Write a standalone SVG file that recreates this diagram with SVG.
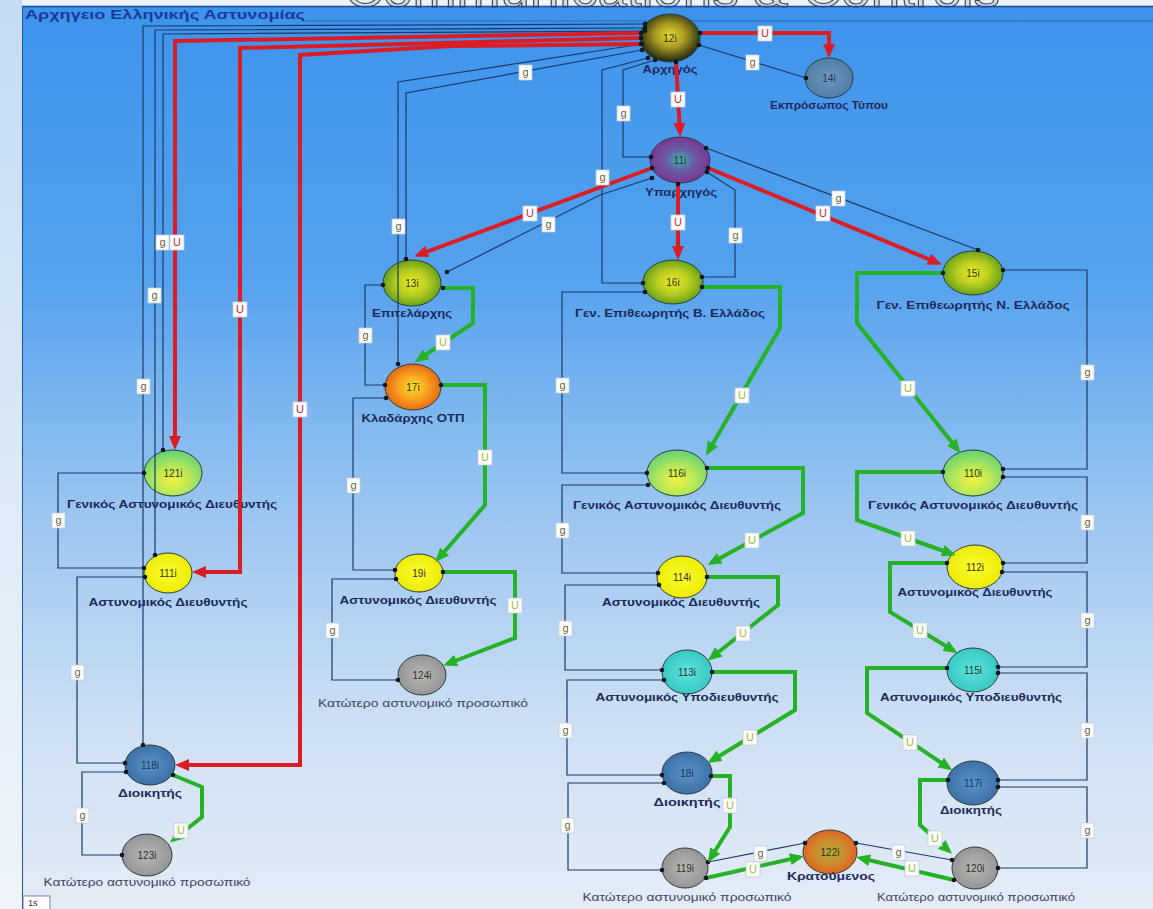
<svg xmlns="http://www.w3.org/2000/svg" width="1153" height="909" viewBox="0 0 1153 909">
  <defs>
    <linearGradient id="bgPanel" x1="0" y1="0" x2="0" y2="1">
      <stop offset="0" stop-color="#3d93ec"/>
      <stop offset="0.3" stop-color="#55a2ee"/>
      <stop offset="0.55" stop-color="#98c4f0"/>
      <stop offset="0.8" stop-color="#cfe0f4"/>
      <stop offset="1" stop-color="#e4ecf6"/>
    </linearGradient>
    <linearGradient id="bgSide" x1="0" y1="0" x2="0" y2="1">
      <stop offset="0" stop-color="#c4dcf2"/>
      <stop offset="0.5" stop-color="#dce9f6"/>
      <stop offset="1" stop-color="#eef4fa"/>
    </linearGradient>
    <radialGradient id="fDark" cx="50%" cy="45%" r="55%">
      <stop offset="0" stop-color="#e4dc30"/>
      <stop offset="0.45" stop-color="#a89a22"/>
      <stop offset="1" stop-color="#1c2412"/>
    </radialGradient>
    <radialGradient id="fPurple" cx="50%" cy="50%" r="55%">
      <stop offset="0" stop-color="#3cb4b0"/>
      <stop offset="0.45" stop-color="#6a5aa4"/>
      <stop offset="1" stop-color="#7c2e92"/>
    </radialGradient>
    <radialGradient id="fGreen" cx="50%" cy="50%" r="55%">
      <stop offset="0" stop-color="#ecec22"/>
      <stop offset="0.5" stop-color="#b6cc20"/>
      <stop offset="1" stop-color="#5a9a18"/>
    </radialGradient>
    <radialGradient id="fOrange" cx="50%" cy="50%" r="55%">
      <stop offset="0" stop-color="#f8e022"/>
      <stop offset="0.5" stop-color="#f8a020"/>
      <stop offset="1" stop-color="#e26010"/>
    </radialGradient>
    <radialGradient id="fLight" cx="50%" cy="65%" r="60%">
      <stop offset="0" stop-color="#f2f23e"/>
      <stop offset="0.5" stop-color="#b8e858"/>
      <stop offset="1" stop-color="#6cd474"/>
    </radialGradient>
    <radialGradient id="fYellow" cx="50%" cy="50%" r="55%">
      <stop offset="0" stop-color="#fcfc30"/>
      <stop offset="1" stop-color="#ecea00"/>
    </radialGradient>
    <radialGradient id="fCyan" cx="50%" cy="50%" r="55%">
      <stop offset="0" stop-color="#5ce6de"/>
      <stop offset="1" stop-color="#34c6c2"/>
    </radialGradient>
    <radialGradient id="fBlue" cx="50%" cy="50%" r="55%">
      <stop offset="0" stop-color="#5a92c8"/>
      <stop offset="1" stop-color="#3a6ea6"/>
    </radialGradient>
    <radialGradient id="fSteel" cx="50%" cy="50%" r="55%">
      <stop offset="0" stop-color="#6c96bc"/>
      <stop offset="1" stop-color="#4c7ca4"/>
    </radialGradient>
    <radialGradient id="fGrey" cx="50%" cy="50%" r="55%">
      <stop offset="0" stop-color="#b8b8b8"/>
      <stop offset="1" stop-color="#929292"/>
    </radialGradient>
    <radialGradient id="fRust" cx="50%" cy="50%" r="55%">
      <stop offset="0" stop-color="#b4a838"/>
      <stop offset="0.55" stop-color="#cc8a2c"/>
      <stop offset="1" stop-color="#e85a20"/>
    </radialGradient>

    <marker id="arR" markerWidth="14" markerHeight="12" refX="10" refY="6" orient="auto" markerUnits="userSpaceOnUse">
      <path d="M0,0 L14,6 L0,12 z" fill="#dc1c24"/>
    </marker>
    <marker id="arG" markerWidth="14" markerHeight="12" refX="10" refY="6" orient="auto" markerUnits="userSpaceOnUse">
      <path d="M0,0 L14,6 L0,12 z" fill="#26b226"/>
    </marker>
    <marker id="dot" markerWidth="6" markerHeight="6" refX="3" refY="3" markerUnits="userSpaceOnUse">
      <circle cx="3" cy="3" r="2.3" fill="#0e1620"/>
    </marker>
  </defs>

  <style>
    .node ellipse { stroke: #2c3c3c; stroke-width: 1; }
    .num { font-family: "Liberation Sans", Arial, sans-serif; font-size: 10px; fill: #30301a; text-anchor: middle; }
    .numb { fill: #1c3454; }
    .lbl { font-family: "Liberation Sans", Arial, sans-serif; font-size: 11px; font-weight: bold; fill: #1c2a5a; text-anchor: middle; }
    .lbl2 { font-family: "Liberation Sans", Arial, sans-serif; font-size: 11px; fill: #3a4662; text-anchor: middle; }
    .r { fill: none; stroke: #dc1c24; stroke-width: 4; marker-start: url(#dot); marker-end: url(#arR); }
    .gr { fill: none; stroke: #26b226; stroke-width: 4; marker-start: url(#dot); marker-end: url(#arG); }
    .d { fill: none; stroke: #1c3a68; stroke-width: 1.2; marker-start: url(#dot); marker-end: url(#dot); }
    .tag rect { fill: #ffffff; stroke: #c4ccd6; stroke-width: 0.8; }
    .tag text { font-family: "Liberation Sans", Arial, sans-serif; font-size: 11px; text-anchor: middle; }
    .tg text { fill: #6a6040; }
    .tr text { fill: #e0202a; }
    .tgr text { fill: #9cc030; }
  </style>

  <!-- backdrop -->
  <rect x="0" y="0" width="1153" height="909" fill="#eef3f8"/>
  <rect x="0" y="0" width="22" height="909" fill="url(#bgSide)"/>
  <rect x="22" y="6" width="1131" height="903" fill="url(#bgPanel)"/>
  <text x="345" y="7" font-family="Liberation Sans, Arial, sans-serif" font-size="46" fill="#d4dce4" stroke="#3c4650" stroke-width="1" textLength="655" lengthAdjust="spacingAndGlyphs">Communications &amp; Controls</text>
  <line x1="22" y1="6.5" x2="1153" y2="6.5" stroke="#1848a0" stroke-width="1.5"/>
  <line x1="22.5" y1="6" x2="22.5" y2="909" stroke="#2050a0" stroke-width="1"/>
  <line x1="305" y1="21" x2="1153" y2="21" stroke="#2858a8" stroke-width="0.8"/>
  <text x="25" y="19" font-family="Liberation Sans, Arial, sans-serif" font-size="13" font-weight="bold" fill="#1a3a9a" textLength="280" lengthAdjust="spacingAndGlyphs">Αρχηγειο Ελληνικής Αστυνομίας</text>
  <g id="pageTab">
    <rect x="23" y="896" width="27" height="14" fill="#ffffff" stroke="#5a6a80" stroke-width="0.8"/>
    <text x="28" y="906" font-family="Liberation Sans, Arial, sans-serif" font-size="9" fill="#2a3a50">1s</text>
  </g>

  <!-- nodes -->
  <g id="n12i" class="node">
    <ellipse cx="670" cy="38" rx="30" ry="24" fill="url(#fDark)"/>
    <text class="num" x="670" y="42">12i</text>
    <text class="lbl" x="670" y="73" textLength="55" lengthAdjust="spacingAndGlyphs">Αρχηγός</text>
  </g>
  <g id="n14i" class="node">
    <ellipse cx="829" cy="78" rx="24" ry="20" fill="url(#fSteel)"/>
    <text class="num numb" x="829" y="82">14i</text>
    <text class="lbl" x="829" y="109" textLength="118" lengthAdjust="spacingAndGlyphs">Εκπρόσωπος Τύπου</text>
  </g>
  <g id="n11i" class="node">
    <ellipse cx="680" cy="160" rx="30" ry="23" fill="url(#fPurple)"/>
    <text class="num" x="680" y="164" fill="#1e5a5a">11i</text>
    <text class="lbl" x="681" y="196" textLength="72" lengthAdjust="spacingAndGlyphs">Υπαρχηγός</text>
  </g>
  <g id="n13i" class="node">
    <ellipse cx="412" cy="283" rx="29" ry="23" fill="url(#fGreen)"/>
    <text class="num" x="412" y="287">13i</text>
    <text class="lbl" x="412" y="317" textLength="80" lengthAdjust="spacingAndGlyphs">Επιτελάρχης</text>
  </g>
  <g id="n17i" class="node">
    <ellipse cx="413" cy="387" rx="28" ry="23" fill="url(#fOrange)"/>
    <text class="num" x="413" y="391">17i</text>
    <text class="lbl" x="413" y="422" textLength="103" lengthAdjust="spacingAndGlyphs">Κλαδάρχης ΟΤΠ</text>
  </g>
  <g id="n16i" class="node">
    <ellipse cx="673" cy="282" rx="30" ry="22" fill="url(#fGreen)"/>
    <text class="num" x="673" y="286">16i</text>
    <text class="lbl" x="670" y="317" textLength="190" lengthAdjust="spacingAndGlyphs">Γεν. Επιθεωρητής Β. Ελλάδος</text>
  </g>
  <g id="n15i" class="node">
    <ellipse cx="973" cy="273" rx="30" ry="22" fill="url(#fGreen)"/>
    <text class="num" x="973" y="277">15i</text>
    <text class="lbl" x="973" y="309" textLength="193" lengthAdjust="spacingAndGlyphs">Γεν. Επιθεωρητής Ν. Ελλάδος</text>
  </g>
  <g id="n121i" class="node">
    <ellipse cx="173" cy="473" rx="29" ry="23" fill="url(#fLight)"/>
    <text class="num" x="173" y="477">121i</text>
    <text class="lbl" x="172" y="508" textLength="210" lengthAdjust="spacingAndGlyphs">Γενικός Αστυνομικός Διευθυντής</text>
  </g>
  <g id="n111i" class="node">
    <ellipse cx="168" cy="573" rx="24" ry="20" fill="url(#fYellow)"/>
    <text class="num" x="168" y="577">111i</text>
    <text class="lbl" x="168" y="606" textLength="159" lengthAdjust="spacingAndGlyphs">Αστυνομικός Διευθυντής</text>
  </g>
  <g id="n118i" class="node">
    <ellipse cx="150" cy="765" rx="25" ry="20" fill="url(#fBlue)"/>
    <text class="num numb" x="150" y="769">118i</text>
    <text class="lbl" x="150" y="797" textLength="64" lengthAdjust="spacingAndGlyphs">Διοικητής</text>
  </g>
  <g id="n123i" class="node">
    <ellipse cx="147" cy="855" rx="25" ry="21" fill="url(#fGrey)"/>
    <text class="num" x="147" y="859" fill="#505050">123i</text>
    <text class="lbl2" x="147" y="886" textLength="207" lengthAdjust="spacingAndGlyphs">Κατώτερο αστυνομικό προσωπικό</text>
  </g>
  <g id="n19i" class="node">
    <ellipse cx="419" cy="573" rx="24" ry="19" fill="url(#fYellow)"/>
    <text class="num" x="419" y="577">19i</text>
    <text class="lbl" x="418" y="604" textLength="157" lengthAdjust="spacingAndGlyphs">Αστυνομικός Διευθυντής</text>
  </g>
  <g id="n124i" class="node">
    <ellipse cx="422" cy="675" rx="24" ry="20" fill="url(#fGrey)"/>
    <text class="num" x="422" y="679" fill="#505050">124i</text>
    <text class="lbl2" x="423" y="707" textLength="210" lengthAdjust="spacingAndGlyphs">Κατώτερο αστυνομικό προσωπικό</text>
  </g>
  <g id="n116i" class="node">
    <ellipse cx="677" cy="473" rx="30" ry="23" fill="url(#fLight)"/>
    <text class="num" x="677" y="477">116i</text>
    <text class="lbl" x="677" y="509" textLength="208" lengthAdjust="spacingAndGlyphs">Γενικός Αστυνομικός Διευθυντής</text>
  </g>
  <g id="n114i" class="node">
    <ellipse cx="682" cy="577" rx="25" ry="21" fill="url(#fYellow)"/>
    <text class="num" x="682" y="581">114i</text>
    <text class="lbl" x="681" y="606" textLength="158" lengthAdjust="spacingAndGlyphs">Αστυνομικός Διευθυντής</text>
  </g>
  <g id="n113i" class="node">
    <ellipse cx="687" cy="672" rx="25" ry="22" fill="url(#fCyan)"/>
    <text class="num" x="687" y="676">113i</text>
    <text class="lbl" x="687" y="701" textLength="183" lengthAdjust="spacingAndGlyphs">Αστυνομικός Υποδιευθυντής</text>
  </g>
  <g id="n18i" class="node">
    <ellipse cx="687" cy="773" rx="25" ry="21" fill="url(#fBlue)"/>
    <text class="num numb" x="687" y="777">18i</text>
    <text class="lbl" x="687" y="806" textLength="67" lengthAdjust="spacingAndGlyphs">Διοικητής</text>
  </g>
  <g id="n119i" class="node">
    <ellipse cx="685" cy="868" rx="23" ry="20" fill="url(#fGrey)"/>
    <text class="num" x="685" y="872" fill="#505050">119i</text>
    <text class="lbl2" x="687" y="901" textLength="209" lengthAdjust="spacingAndGlyphs">Κατώτερο αστυνομικό προσωπικό</text>
  </g>
  <g id="n122i" class="node">
    <ellipse cx="830" cy="852" rx="27" ry="22" fill="url(#fRust)"/>
    <text class="num" x="830" y="856">122i</text>
    <text class="lbl" x="831" y="880" textLength="88" lengthAdjust="spacingAndGlyphs">Κρατούμενος</text>
  </g>
  <g id="n110i" class="node">
    <ellipse cx="973" cy="473" rx="30" ry="23" fill="url(#fLight)"/>
    <text class="num" x="973" y="477">110i</text>
    <text class="lbl" x="973" y="509" textLength="210" lengthAdjust="spacingAndGlyphs">Γενικός Αστυνομικός Διευθυντής</text>
  </g>
  <g id="n112i" class="node">
    <ellipse cx="975" cy="567" rx="28" ry="22" fill="url(#fYellow)"/>
    <text class="num" x="975" y="571">112i</text>
    <text class="lbl" x="975" y="596" textLength="155" lengthAdjust="spacingAndGlyphs">Αστυνομικός Διευθυντής</text>
  </g>
  <g id="n115i" class="node">
    <ellipse cx="973" cy="670" rx="26" ry="22" fill="url(#fCyan)"/>
    <text class="num" x="973" y="674">115i</text>
    <text class="lbl" x="971" y="701" textLength="182" lengthAdjust="spacingAndGlyphs">Αστυνομικός Υποδιευθυντής</text>
  </g>
  <g id="n117i" class="node">
    <ellipse cx="973" cy="783" rx="26" ry="22" fill="url(#fBlue)"/>
    <text class="num numb" x="973" y="787">117i</text>
    <text class="lbl" x="971" y="814" textLength="62" lengthAdjust="spacingAndGlyphs">Διοικητής</text>
  </g>
  <g id="n120i" class="node">
    <ellipse cx="975" cy="868" rx="23" ry="21" fill="url(#fGrey)"/>
    <text class="num" x="975" y="872" fill="#505050">120i</text>
    <text class="lbl2" x="976" y="901" textLength="198" lengthAdjust="spacingAndGlyphs">Κατώτερο αστυνομικό προσωπικό</text>
  </g>

  <!-- connectors -->
  <g id="connectors">
    <!-- g links -->
    <path class="d" d="M645,24 L143,26 L143,745"/>
    <path class="d" d="M645,28 L155,30 L155,555"/>
    <path class="d" d="M645,31 L163,34 L163,450"/>
    <path class="d" d="M642,44 L398,82 L398,364"/>
    <path class="d" d="M642,50 L406,93 L406,259"/>
    <path class="d" d="M648,58 L602,70 L602,283 L643,283"/>
    <path class="d" d="M655,60 L623,70 L623,157 L651,157"/>
    <path class="d" d="M699,45 L806,78"/>
    <path class="d" d="M652,178 L600,195 L447,272"/>
    <path class="d" d="M706,148 L978,250"/>
    <path class="d" d="M707,172 L735,190 L735,277 L702,277"/>
    <path class="d" d="M645,292 L562,292 L562,473 L647,473"/>
    <path class="d" d="M648,485 L562,485 L562,573 L658,573"/>
    <path class="d" d="M659,585 L565,585 L565,670 L662,670"/>
    <path class="d" d="M664,680 L567,680 L567,775 L662,775"/>
    <path class="d" d="M664,783 L568,783 L568,870 L662,870"/>
    <path class="d" d="M708,862 L805,843"/>
    <path class="d" d="M952,860 L856,843"/>
    <path class="d" d="M383,285 L365,285 L365,385 L385,385"/>
    <path class="d" d="M386,398 L353,398 L353,570 L395,570"/>
    <path class="d" d="M396,579 L332,579 L332,680 L398,680"/>
    <path class="d" d="M1003,270 L1087,270 L1087,469 L1003,469"/>
    <path class="d" d="M1003,477 L1087,477 L1087,563 L1003,563"/>
    <path class="d" d="M1002,572 L1087,572 L1087,667 L998,667"/>
    <path class="d" d="M998,673 L1087,673 L1087,780 L998,780"/>
    <path class="d" d="M998,787 L1087,787 L1087,868 L998,868"/>
    <path class="d" d="M144,473 L58,473 L58,568 L144,568"/>
    <path class="d" d="M145,577 L77,577 L77,763 L125,763"/>
    <path class="d" d="M126,772 L82,772 L82,855 L122,855"/>

    <!-- U links, command chain from the top -->
    <path class="r" d="M641,33 L175,41 L175,446"/>
    <path class="r" d="M641,38 L240,48 L240,572 L196,572"/>
    <path class="r" d="M641,44 L452,46 L300,55 L300,765 L179,765"/>
    <path class="r" d="M700,33 L829,33 L829,54"/>
    <path class="r" d="M676,62 L680,133"/>
    <path class="r" d="M652,168 L418,255"/>
    <path class="r" d="M678,184 L678,256"/>
    <path class="r" d="M708,168 L938,263"/>

    <!-- U links, lower chain -->
    <path class="gr" d="M702,287 L780,287 L780,328 L708,452"/>
    <path class="gr" d="M707,468 L803,468 L803,513 L711,563"/>
    <path class="gr" d="M707,577 L778,577 L778,605 L711,658"/>
    <path class="gr" d="M712,672 L795,672 L795,710 L711,761"/>
    <path class="gr" d="M711,776 L730,776 L730,827 L710,859"/>
    <path class="gr" d="M706,878 L800,857"/>
    <path class="gr" d="M954,880 L860,858"/>
    <path class="gr" d="M443,288 L473,288 L473,323 L418,360"/>
    <path class="gr" d="M441,385 L485,385 L485,505 L438,559"/>
    <path class="gr" d="M443,572 L515,572 L515,638 L447,664"/>
    <path class="gr" d="M943,273 L857,273 L857,323 L958,450"/>
    <path class="gr" d="M943,472 L857,472 L857,520 L952,554"/>
    <path class="gr" d="M947,563 L890,563 L890,612 L954,651"/>
    <path class="gr" d="M947,668 L867,668 L867,713 L949,768"/>
    <path class="gr" d="M948,780 L920,780 L920,825 L949,851"/>
    <path class="gr" d="M173,775 L202,787 L202,817 L173,840"/>
  </g>

  <!-- link tags -->
  <g id="tags-g" class="tag tg">
    <rect x="156" y="235" width="13" height="15"/><text x="162.5" y="246">g</text>
    <rect x="148" y="288" width="13" height="15"/><text x="154.5" y="299">g</text>
    <rect x="137" y="379" width="13" height="15"/><text x="143.5" y="390">g</text>
    <rect x="392" y="219" width="13" height="15"/><text x="398.5" y="230">g</text>
    <rect x="519" y="65" width="13" height="15"/><text x="525.5" y="76">g</text>
    <rect x="596" y="170" width="13" height="15"/><text x="602.5" y="181">g</text>
    <rect x="617" y="106" width="13" height="15"/><text x="623.5" y="117">g</text>
    <rect x="746" y="55" width="13" height="15"/><text x="752.5" y="66">g</text>
    <rect x="542" y="217" width="13" height="15"/><text x="548.5" y="228">g</text>
    <rect x="832" y="191" width="13" height="15"/><text x="838.5" y="202">g</text>
    <rect x="729" y="228" width="13" height="15"/><text x="735.5" y="239">g</text>
    <rect x="556" y="378" width="13" height="15"/><text x="562.5" y="389">g</text>
    <rect x="556" y="523" width="13" height="15"/><text x="562.5" y="534">g</text>
    <rect x="559" y="621" width="13" height="15"/><text x="565.5" y="632">g</text>
    <rect x="559" y="723" width="13" height="15"/><text x="565.5" y="734">g</text>
    <rect x="561" y="818" width="13" height="15"/><text x="567.5" y="829">g</text>
    <rect x="754" y="846" width="13" height="15"/><text x="760.5" y="857">g</text>
    <rect x="892" y="845" width="13" height="15"/><text x="898.5" y="856">g</text>
    <rect x="359" y="328" width="13" height="15"/><text x="365.5" y="339">g</text>
    <rect x="347" y="478" width="13" height="15"/><text x="353.5" y="489">g</text>
    <rect x="326" y="623" width="13" height="15"/><text x="332.5" y="634">g</text>
    <rect x="1081" y="365" width="13" height="15"/><text x="1087.5" y="376">g</text>
    <rect x="1081" y="515" width="13" height="15"/><text x="1087.5" y="526">g</text>
    <rect x="1081" y="613" width="13" height="15"/><text x="1087.5" y="624">g</text>
    <rect x="1081" y="723" width="13" height="15"/><text x="1087.5" y="734">g</text>
    <rect x="1081" y="823" width="13" height="15"/><text x="1087.5" y="834">g</text>
    <rect x="52" y="513" width="13" height="15"/><text x="58.5" y="524">g</text>
    <rect x="71" y="665" width="13" height="15"/><text x="77.5" y="676">g</text>
    <rect x="76" y="808" width="13" height="15"/><text x="82.5" y="819">g</text>
  </g>
  <g id="tags-ur" class="tag tr">
    <rect x="170" y="235" width="14" height="15"/><text x="177" y="246">U</text>
    <rect x="233" y="302" width="14" height="15"/><text x="240" y="313">U</text>
    <rect x="293" y="402" width="14" height="15"/><text x="300" y="413">U</text>
    <rect x="758" y="26" width="14" height="15"/><text x="765" y="37">U</text>
    <rect x="671" y="92" width="14" height="15"/><text x="678" y="103">U</text>
    <rect x="523" y="206" width="14" height="15"/><text x="530" y="217">U</text>
    <rect x="671" y="215" width="14" height="15"/><text x="678" y="226">U</text>
    <rect x="816" y="206" width="14" height="15"/><text x="823" y="217">U</text>
  </g>
  <g id="tags-ug" class="tag tgr">
    <rect x="735" y="388" width="14" height="15"/><text x="742" y="399">U</text>
    <rect x="745" y="533" width="14" height="15"/><text x="752" y="544">U</text>
    <rect x="736" y="626" width="14" height="15"/><text x="743" y="637">U</text>
    <rect x="743" y="730" width="14" height="15"/><text x="750" y="741">U</text>
    <rect x="723" y="798" width="14" height="15"/><text x="730" y="809">U</text>
    <rect x="746" y="862" width="14" height="15"/><text x="753" y="873">U</text>
    <rect x="905" y="861" width="14" height="15"/><text x="912" y="872">U</text>
    <rect x="436" y="335" width="14" height="15"/><text x="443" y="346">U</text>
    <rect x="478" y="450" width="14" height="15"/><text x="485" y="461">U</text>
    <rect x="508" y="598" width="14" height="15"/><text x="515" y="609">U</text>
    <rect x="901" y="381" width="14" height="15"/><text x="908" y="392">U</text>
    <rect x="901" y="531" width="14" height="15"/><text x="908" y="542">U</text>
    <rect x="913" y="623" width="14" height="15"/><text x="920" y="634">U</text>
    <rect x="903" y="735" width="14" height="15"/><text x="910" y="746">U</text>
    <rect x="928" y="831" width="14" height="15"/><text x="935" y="842">U</text>
    <rect x="174" y="823" width="14" height="15"/><text x="181" y="834">U</text>
  </g>
</svg>
